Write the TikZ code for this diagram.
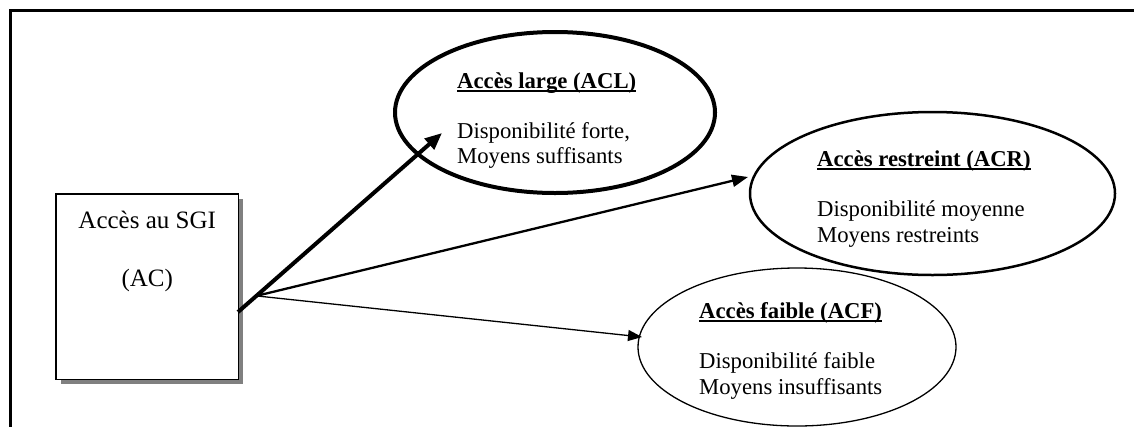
\documentclass[tikz,border=0pt]{standalone}
\usepackage{fontspec}
\setmainfont{Liberation Serif}
\usetikzlibrary{shapes.geometric,arrows.meta,calc}
\begin{document}
\begin{tikzpicture}[x=1pt,y=-1pt,
  oval/.style={ellipse, draw, inner sep=0pt},
  boxtxt/.style={font=\fontsize{25}{28}\selectfont, inner sep=0pt, anchor=base},
  headtxt/.style={font=\bfseries\fontsize{22.7}{26}\selectfont, inner sep=0pt, anchor=base west},
  bodytxt/.style={font=\fontsize{22.7}{26}\selectfont, inner sep=0pt, anchor=base west},
  uline/.style={line width=1.3pt},
  link/.style={draw}
]
\useasboundingbox (0,0) rectangle (1134,426);
\clip (0,0) rectangle (1134,426);
\fill[white] (0,0) rectangle (1134,426);

% outer frame (open to the right and bottom)
\draw[line width=3pt] (10.5,440) -- (10.5,10.5) -- (1150,10.5);

% source box with its drop shadow
\fill[black!50] (61,199) rectangle (243.3,384.3);
\node[draw, fill=white, line width=1.3pt, minimum width=182.3pt, minimum height=185.3pt, inner sep=0pt] (AC) at (147.2,286.7) {};
\node[boxtxt] (ACa) at (147.2,228) {Accès au SGI};
\node[boxtxt] (ACb) at (147.2,286) {(AC)};

% target ellipses
\node[oval, line width=4pt, minimum width=320pt, minimum height=161pt] (ACL) at (555,112.5) {};
\node[oval, line width=2.5pt, minimum width=365pt, minimum height=163pt] (ACR) at (932.5,193.5) {};
\node[oval, line width=1.3pt, minimum width=318pt, minimum height=158pt] (ACF) at (797,347) {};

% ellipse texts
\node[headtxt] (hL) at (457,88) {Accès large (ACL)};
\draw[uline] ([yshift=-3pt]hL.base west) -- ([yshift=-3pt]hL.base east);
\node[bodytxt] (bL1) at (457,138) {Disponibilité forte,};
\node[bodytxt] (bL2) at (457,163) {Moyens suffisants};

\node[headtxt] (hR) at (817,166) {Accès restreint (ACR)};
\draw[uline] ([yshift=-3pt]hR.base west) -- ([yshift=-3pt]hR.base east);
\node[bodytxt] (bR1) at (817,216) {Disponibilité moyenne};
\node[bodytxt] (bR2) at (817,242) {Moyens restreints};

\node[headtxt] (hF) at (699,318) {Accès faible (ACF)};
\draw[uline] ([yshift=-3pt]hF.base west) -- ([yshift=-3pt]hF.base east);
\node[bodytxt] (bF1) at (699,368) {Disponibilité faible};
\node[bodytxt] (bF2) at (699,394) {Moyens insuffisants};

% connectors
\coordinate (src) at (238,312);
\coordinate (tipL) at (442,133);
\coordinate (tipR) at (748,177);
\coordinate (tipF) at (642,337);
\coordinate (fork) at ($(src)!0.09!(tipL)$);

\draw[link, line width=4pt, -{Triangle[length=17pt,width=14pt]}] (src) -- (tipL);
\draw[link, line width=2.3pt, -{Triangle[length=16pt,width=12pt]}] (fork) -- (tipR);
\draw[link, line width=1.3pt, -{Triangle[length=14pt,width=11pt]}] (fork) -- (tipF);
\end{tikzpicture}
\end{document}
